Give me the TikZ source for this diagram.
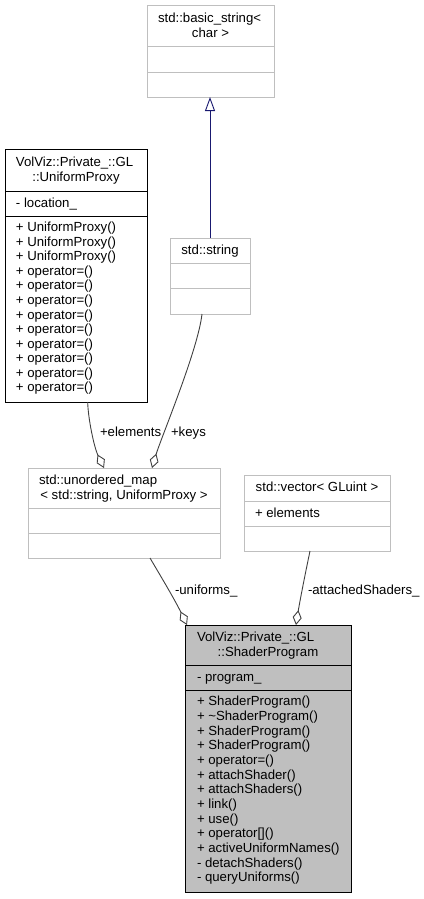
\documentclass[tikz,border=0pt]{standalone}
\usepackage{fontspec}
\setmainfont{Liberation Sans}
\usetikzlibrary{arrows.meta}
\definecolor{boxgray}{HTML}{BFBFBF}
\definecolor{edgegray}{HTML}{404040}
\definecolor{inhblue}{HTML}{191970}
\definecolor{spfill}{HTML}{BFBFBF}
\begin{document}
\begin{tikzpicture}[x=1pt,y=-1pt,
  every node/.style={font=\fontsize{13.2}{14.6}\selectfont, inner sep=0pt, outer sep=0pt},
  classbox/.style={draw=boxgray, line width=1pt, fill=white, anchor=north west},
  docbox/.style={draw=black, line width=1pt, fill=white, anchor=north west},
  divgray/.style={draw=boxgray, line width=1pt},
  divblack/.style={draw=black, line width=1pt},
  txt/.style={anchor=base west},
  ctxt/.style={anchor=base},
  assoc/.style={draw=edgegray, line width=0.9pt, -{Diamond[fill=white, length=15pt, width=9pt]}},
  inherit/.style={draw=inhblue, line width=0.9pt, -{Triangle[fill=white, length=14pt, width=10pt]}}]
\useasboundingbox (0,0) rectangle (423,899);
% std::basic_string< char >
\node[classbox, minimum width=127pt, minimum height=91pt] (bs) at (147,6) {};
\draw[divgray] ([yshift=-41pt]bs.north west) -- ([yshift=-41pt]bs.north east);
\draw[divgray] ([yshift=-66pt]bs.north west) -- ([yshift=-66pt]bs.north east);
\node[txt] (bs1) at (158,22.7) {std::basic\_string<};
\node[ctxt] (bs2) at (210.5,37.3) {char >};
% UniformProxy
\node[docbox, minimum width=142pt, minimum height=253pt] (up) at (5,149) {};
\draw[divblack] ([yshift=-42pt]up.north west) -- ([yshift=-42pt]up.north east);
\draw[divblack] ([yshift=-67pt]up.north west) -- ([yshift=-67pt]up.north east);
\node[txt] (up1) at (16,166.7) {VolViz::Private\_::GL};
\node[ctxt] (up2) at (76,181.3) {::UniformProxy};
\node[txt] (upa) at (16,207.2) {- location\_};
\foreach \t [count=\i from 0] in {UniformProxy(),UniformProxy(),UniformProxy(),operator=(),operator=(),operator=(),operator=(),operator=(),operator=(),operator=(),operator=(),operator=()}
  \node[txt] (upm\i) at (16,231.7+14.55*\i) {+ \t};
% std::string
\node[classbox, minimum width=80pt, minimum height=76pt] (str) at (170,238) {};
\draw[divgray] ([yshift=-25pt]str.north west) -- ([yshift=-25pt]str.north east);
\draw[divgray] ([yshift=-50pt]str.north west) -- ([yshift=-50pt]str.north east);
\node[ctxt] (str1) at (210,254.2) {std::string};
% unordered_map
\node[classbox, minimum width=192pt, minimum height=90pt] (map) at (28,468) {};
\draw[divgray] ([yshift=-40pt]map.north west) -- ([yshift=-40pt]map.north east);
\draw[divgray] ([yshift=-65pt]map.north west) -- ([yshift=-65pt]map.north east);
\node[txt] (map1) at (39,484.4) {std::unordered\_map};
\node[ctxt] (map2) at (124,499) {< std::string, UniformProxy >};
% std::vector< GLuint >
\node[classbox, minimum width=146pt, minimum height=76pt] (vec) at (244,475) {};
\draw[divgray] ([yshift=-26pt]vec.north west) -- ([yshift=-26pt]vec.north east);
\draw[divgray] ([yshift=-51pt]vec.north west) -- ([yshift=-51pt]vec.north east);
\node[ctxt] (vec1) at (317,491.2) {std::vector< GLuint >};
\node[txt] (veca) at (255,517.2) {+ elements};
% ShaderProgram
\node[docbox, fill=spfill, minimum width=166pt, minimum height=267pt] (sp) at (185,625) {};
\draw[divblack] ([yshift=-40pt]sp.north west) -- ([yshift=-40pt]sp.north east);
\draw[divblack] ([yshift=-65pt]sp.north west) -- ([yshift=-65pt]sp.north east);
\node[txt] (sp1) at (197,641.4) {VolViz::Private\_::GL};
\node[ctxt] (sp2) at (268,656) {::ShaderProgram};
\node[txt] (spa) at (197,681.2) {- program\_};
\foreach \t [count=\i from 0] in {+ ShaderProgram(),+ \textasciitilde ShaderProgram(),+ ShaderProgram(),+ ShaderProgram(),+ operator=(),+ attachShader(),+ attachShaders(),+ link(),+ use(),+ operator[](),+ activeUniformNames(),- detachShaders(),- queryUniforms()}
  \node[txt] (spm\i) at (197,705.7+14.67*\i) {\t};
% connectors
\draw[inherit] (str.north) -- (str.north |- bs.south);
\draw[assoc] ([xshift=11.7pt]up.south) .. controls (88,418) and (94,447) .. ([xshift=-20pt]map.north);
\draw[assoc] ([xshift=-8pt]str.south) .. controls (198,350) and (161,438) .. ([xshift=28pt]map.north);
\draw[assoc] ([xshift=26pt]map.south) .. controls (160,575) and (175,600) .. ([xshift=-81pt]sp.north);
\draw[assoc] ([xshift=-7pt]vec.south) .. controls (306,570) and (300,600) .. ([xshift=28pt]sp.north);
% edge labels
\node[txt] (lel) at (100,436.7) {+elements};
\node[txt] (lky) at (171,436.7) {+keys};
\node[txt] (lun) at (175,594.7) {-uniforms\_};
\node[txt] (las) at (308,594.7) {-attachedShaders\_};
\end{tikzpicture}
\end{document}
